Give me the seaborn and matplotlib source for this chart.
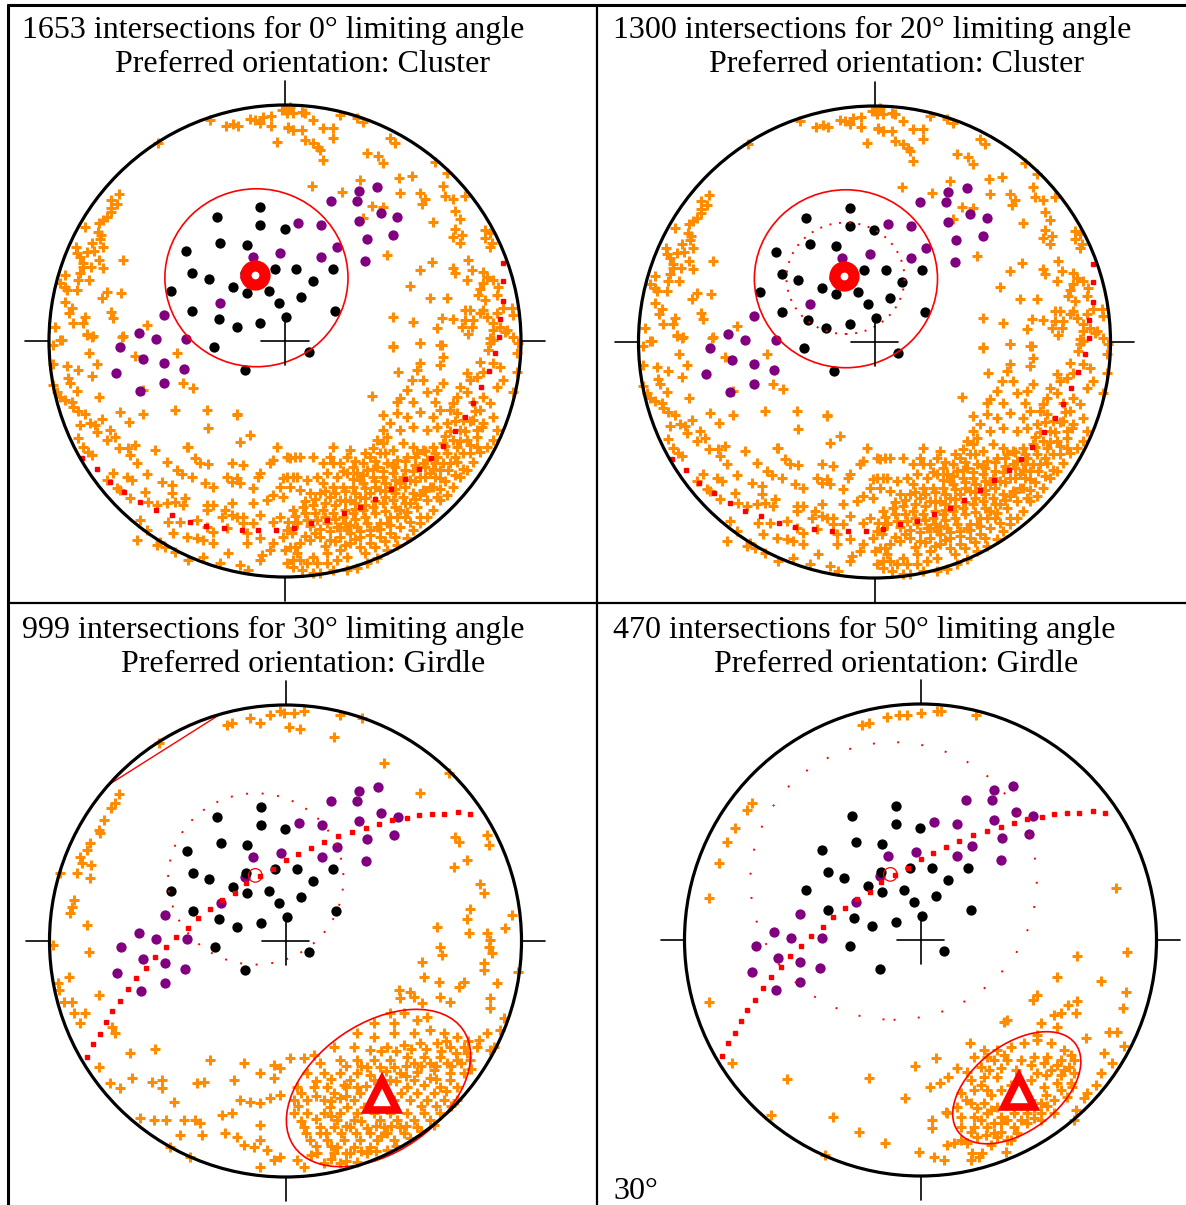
import numpy as np
import pandas as pd
import matplotlib
matplotlib.use("Agg")
import matplotlib.pyplot as plt
from matplotlib.patches import Circle, Ellipse
from matplotlib.lines import Line2D
import seaborn as sns

sns.set_theme(style="white")
plt.rcParams['font.family'] = ['Liberation Serif', 'DejaVu Serif']
plt.rcParams['text.color'] = 'black'

# ---------------- data ----------------
TITLE_LINE1 = ["1653 intersections for 0\u00b0 limiting angle",
               "1300 intersections for 20\u00b0 limiting angle",
               "999 intersections for 30\u00b0 limiting angle",
               "470 intersections for 50\u00b0 limiting angle"]
TITLE_LINE2 = ["Preferred orientation: Cluster", "Preferred orientation: Cluster",
               "Preferred orientation: Girdle", "Preferred orientation: Girdle"]
FOOTNOTE = "30\u00b0"

# poles (normalised net coordinates, primitive radius = 1)
BLACK_X = [-0.105, -0.290, -0.105, -0.001, -0.274, -0.162, -0.418, -0.393, -0.323, -0.168,
           -0.044, 0.048, 0.202, -0.222, -0.162, -0.069, 0.117, -0.484, -0.027, 0.066,
           -0.393, 0.212, -0.281, -0.205, -0.105, 0.006, -0.299, 0.100, -0.171]
BLACK_Y = [0.568, 0.527, 0.490, 0.475, 0.414, 0.407, 0.380, 0.288, 0.261, 0.288,
           0.306, 0.304, 0.304, 0.229, 0.203, 0.212, 0.254, 0.212, 0.160, 0.185,
           0.129, 0.129, 0.093, 0.058, 0.075, 0.100, -0.025, -0.045, -0.121]
PURPLE_X = [0.390, 0.312, 0.194, 0.304, 0.405, 0.475, 0.312, 0.056, 0.153, 0.458,
            0.347, 0.219, -0.020, -0.137, 0.153, 0.339, -0.171, -0.274, -0.511, -0.620,
            -0.547, -0.418, -0.698, -0.603, -0.511, -0.427, -0.715, -0.511, -0.613]
PURPLE_Y = [0.653, 0.637, 0.595, 0.595, 0.542, 0.527, 0.508, 0.499, 0.492, 0.449,
            0.432, 0.397, 0.373, 0.356, 0.356, 0.338, 0.271, 0.160, 0.109, 0.032,
            0.007, 0.007, -0.025, -0.078, -0.095, -0.120, -0.137, -0.179, -0.213]

MEAN_POLE = (-0.128, 0.278)
CONE_CENTER = (-0.121, 0.268)
CONE_SIZE = (0.776, 0.754)          # 95% cone (panels 1-2)
LIMIT_CIRCLES = {1: ((-0.123, 0.270), 0.50, 0.472),   # 20 deg
                 2: ((-0.126, 0.263), 0.743, 0.726),  # 30 deg
                 3: ((-0.114, 0.250), 1.214, 1.176)}  # 50 deg

# best-fit great circle, panels 1-2
GC_CLUSTER_X = [-0.860, -0.797, -0.742, -0.682, -0.614, -0.547, -0.479, -0.403, -0.335, -0.258,
                -0.182, -0.114, -0.038, 0.038, 0.110, 0.178, 0.250, 0.318, 0.381, 0.449,
                0.508, 0.568, 0.619, 0.669, 0.720, 0.763, 0.797, 0.831, 0.864, 0.890,
                0.907, 0.911, 0.924, 0.924, 0.924]
GC_CLUSTER_Y = [-0.496, -0.542, -0.597, -0.640, -0.682, -0.716, -0.737, -0.767, -0.784, -0.792,
                -0.801, -0.801, -0.801, -0.792, -0.771, -0.758, -0.729, -0.703, -0.669, -0.627,
                -0.585, -0.542, -0.496, -0.445, -0.381, -0.322, -0.263, -0.195, -0.127, -0.051,
                0.017, 0.093, 0.169, 0.254, 0.331]
# girdle great circle, panels 3-4
GC_GIRDLE_X = [-0.839, -0.815, -0.787, -0.761, -0.737, -0.702, -0.669, -0.634, -0.592, -0.551,
               -0.507, -0.465, -0.414, -0.370, -0.321, -0.268, -0.215, -0.169, -0.110, -0.052,
               0.004, 0.054, 0.110, 0.164, 0.223, 0.282, 0.343, 0.395, 0.452, 0.513,
               0.565, 0.621, 0.672, 0.729, 0.781]
GC_GIRDLE_Y = [-0.490, -0.438, -0.395, -0.345, -0.295, -0.253, -0.202, -0.158, -0.116, -0.066,
               -0.024, 0.018, 0.054, 0.096, 0.137, 0.174, 0.205, 0.244, 0.275, 0.305,
               0.343, 0.369, 0.393, 0.418, 0.445, 0.460, 0.480, 0.496, 0.513, 0.523,
               0.534, 0.538, 0.538, 0.545, 0.538]
CHORD_P3_X = [-0.751, -0.278]
CHORD_P3_Y = [0.661, 0.960]

GIRDLE_POLE = {2: (0.411, -0.653), 3: (0.418, -0.643)}
GIRDLE_ELLIPSE = {2: ((0.394, -0.623), 0.870, 0.545, 34.5),
                  3: ((0.408, -0.626), 0.621, 0.367, 37.0)}

# intersections, in net units where the primitive radius is 236
NET_R = 236.0
ORANGE_CLUSTER = [
    (-75,221),(-127,198),(-59,215),(-52,217),(-47,215),(-35,222),(-30,221),(-25,218),(-22,224),(-14,225),
    (-14,215),(-3,231),(2,228),(8,228),(3,214),(8,211),(-8,199),
    (-166,147),(-174,141),(-168,137),(-174,133),(-174,129),(-178,124),(-182,121),(-186,118),(-200,114),
    (-187,109),(-184,106),(-185,102),(-193,98),(-182,94),(-209,94),(-208,88),(-198,89),(-191,90),(-205,84),
    (-202,78),(-202,74),(-194,74),(-186,81),(-162,81),(-182,73),(-220,66),(-205,68),(-207,61),(-196,61),
    (-225,58),(-220,54),(-218,51),(-208,51),(-178,49),(-164,48),(-183,43),(-220,39),(-213,33),(-216,28),
    (-174,29),(-172,23),(-200,24),(-202,18),(-212,18),(-230,14),(-138,16),(-163,4),(-198,6),(-193,4),(-223,1),
    (5,234),(0,231),(17,229),(20,228),(28,221),(55,226),(72,223),(78,219),(3,213),(8,211),(17,211),
    (38,213),(48,213),(48,203),(20,201),(28,198),(33,194),(35,191),(38,181),(105,203),(110,198),(82,188),
    (93,185),(98,178),(150,179),(162,168),(27,155),(57,149),(75,161),(114,163),(127,165),(115,148),
    (135,148),(140,142),(137,137),(158,155),(160,145),(168,142),(170,130),(175,122),(180,145),(148,119),
    (170,112),(177,106),(168,104),(175,98),(87,135),(98,134),(78,123),(200,111),(205,108),(200,103),
    (207,98),(205,94),(183,81),(147,79),(168,73),(170,68),(187,71),(135,71),(198,69),(202,64),(198,58),
    (195,52),(193,46),(125,55),(145,43),(162,43),(182,61),(208,61),(213,54),(212,46),(218,33),(227,33),
    (200,41),(198,31),(180,31),(185,31),(180,21),(177,14),(188,21),(195,28),(202,24),(208,18),(212,28),
    (215,14),(220,9),(208,1),(205,-2),(187,14),(168,22),(157,23),(152,13),(128,19),(108,24),(102,86),
    (108,-6),(135,-2),(155,-4),(228,26),(233,-2),
    (-198,7),(-192,5),(-162,5),(-225,1),(-232,-4),(-196,-12),(-150,-15),(-108,-12),(-188,-23),(-232,-23),
    (-218,-25),(-207,-29),(-193,-35),(-217,-37),(-215,-42),(-102,-42),(-92,-47),(-208,-50),(-232,-44),
    (-228,-51),(-225,-56),(-220,-59),(-213,-61),(-186,-56),(-142,-49),(-212,-66),(-207,-70),(-200,-73),
    (-205,-84),(-195,-82),(-190,-84),(-183,-78),(-165,-71),(-142,-73),(-110,-69),(-78,-69),(-48,-73),
    (-156,-81),(-175,-89),(-170,-96),(-178,-99),(-188,-91),(-207,-97),(-202,-106),(-197,-111),(-193,-114),
    (-166,-107),(-157,-107),(-150,-104),(-155,-114),(-148,-122),(-130,-109),(-97,-106),(-90,-117),
    (-85,-122),(-77,-123),(-118,-121),(-108,-129),(-103,-133),(-93,-136),(-80,-142),(-138,-133),
    (-158,-136),(-153,-139),(-172,-132),(-178,-139),(-168,-147),(-165,-149),(-155,-157),(-140,-151),
    (-123,-141),(-113,-144),(-113,-152),(-110,-161),(-100,-157),(-102,-164),(-118,-162),(-128,-164),
    (-137,-161),(-78,-169),(-72,-164),(-60,-169),(-53,-174),(-48,-176),(-58,-187),(-63,-176),(-42,-176),
    (-38,-192),(-32,-182),(-25,-174),(-12,-181),(-5,-176),(3,-181),(12,-181),(7,-192),(-2,-196),
    (-15,-209),(-23,-214),(-38,-202),(-57,-212),(-72,-202),(-82,-199),(-88,-197),(-98,-196),(-112,-192),
    (-117,-181),(-105,-181),(-88,-179),(-78,-186),(-72,-191),(-125,-201),(-138,-189),(-145,-179),
    (-148,-199),(-128,-204),(-120,-206),(-110,-211),(-82,-216),(-97,-219),(-65,-222),(-45,-224),
    (-37,-229),(-25,-219),(-12,-202),(0,-209),(8,-219),(10,-206),(-25,-197),(-42,-182),(-53,-162),
    (-32,-162),(-18,-159),(-12,-154),(-5,-146),(-2,-137),(8,-136),(2,-116),(10,-116),(-12,-119),
    (-15,-122),(-25,-132),(-27,-136),(-42,-124),(-53,-122),(-48,-137),(-53,-141),(-45,-142),(-58,-136),
    (-72,-146),(-32,-147),(-78,-164),(-8,-106),(-45,-101),(-35,-94),(-48,-74),(-77,-87),(-98,-106),
    (183,7),(205,3),(208,11),(222,11),(232,-12),(232,-31),(228,-51),(218,-39),(215,-26),(208,-22),
    (203,-9),(195,-21),(198,-31),(192,-36),(185,-39),(182,-32),(175,-46),(182,-51),(172,-56),(165,-69),
    (168,-62),(188,-61),(195,-69),(205,-62),(208,-76),(198,-82),(192,-89),(212,-89),(208,-99),(202,-106),
    (195,-111),(188,-121),(182,-129),(175,-136),(168,-146),(162,-154),(155,-159),(148,-169),(142,-176),
    (135,-182),(128,-189),(122,-197),(112,-204),(102,-209),(92,-217),(82,-222),(72,-227),(62,-229),
    (48,-229),(35,-232),(28,-232),(17,-229),(8,-226),(2,-222),(15,-219),(28,-216),(42,-212),(55,-209),
    (65,-202),(75,-196),(85,-189),(95,-182),(105,-176),(115,-169),(125,-162),(135,-154),(145,-146),
    (155,-137),(163,-129),(172,-121),(178,-112),(185,-104),(192,-96),(197,-86),
    (135,-2),(157,-4),(158,-16),(155,-24),(135,-22),(132,-29),(138,-39),(127,-39),(122,-49),(113,-31),
    (115,-57),(112,-61),(128,-61),(142,-51),(152,-49),(158,-42),(150,-61),(155,-69),(148,-76),(135,-71),
    (122,-76),(112,-72),(105,-82),(98,-89),(92,-99),(102,-96),(115,-89),(128,-86),(142,-89),(152,-86),
    (162,-82),(172,-72),(178,-79),(175,-89),(168,-99),(158,-102),(148,-106),(138,-109),(128,-106),
    (118,-102),(108,-109),(95,-112),(85,-116),(78,-122),(68,-126),(62,-116),(55,-122),(48,-122),(45,-116),
    (38,-122),(28,-116),(15,-116),(5,-117),(2,-136),(12,-136),(22,-139),(32,-136),(42,-132),(52,-136),
    (62,-132),(72,-132),(82,-129),(92,-126),(102,-122),(112,-119),(122,-116),(132,-112),(142,-119),
    (152,-116),(162,-112),(165,-122),(155,-129),(145,-132),(135,-136),(125,-139),(115,-142),(105,-146),
    (95,-149),(85,-152),(75,-156),(65,-159),(55,-159),(45,-156),(35,-152),(25,-152),(15,-149),(5,-146),
    (-2,-156),(8,-169),(18,-166),(28,-164),(38,-169),(48,-172),(58,-176),(68,-172),(78,-169),(88,-166),
    (98,-162),(108,-159),(118,-156),(128,-152),(138,-149),(148,-146),(152,-156),(142,-159),(132,-166),
    (122,-171),(112,-176),(102,-182),(92,-186),(82,-182),(72,-186),(62,-189),(52,-186),(42,-182),
    (32,-179),(22,-179),(12,-182),(2,-189),(5,-206),(15,-202),(25,-199),(35,-196),(45,-199),(55,-196),
    (65,-192),(75,-206),(85,-202),(95,-196),(105,-192),(115,-186),(125,-181),(135,-176),(62,-216),
    (52,-219),(42,-222),(32,-222),(22,-222),(12,-212),(68,-146),(78,-142),(88,-136),(98,-136),(108,-132),
    (58,-146),(48,-146),(38,-142),(88,-107),(98,-102),(75,-139),(60,-169),(70,-162),(80,-157),(90,-146),
    (100,-142),(110,-139),(120,-129),(130,-124),(140,-126),(150,-122),(172,-106),(182,-99),(188,-79),
    (198,-56),(212,-46),(228,4),(108,-5),(87,-55),(98,-74),(48,-106),(65,-109),(8,-187)]
# extra crosses read in the solid core of the lower-right band
ORANGE_CLUSTER_CORE = [
    (70,-120),(80,-112),(90,-120),(100,-112),(110,-126),(120,-120),(130,-116),(140,-110),(150,-112),
    (160,-105),(170,-116),(58,-130),(68,-138),(78,-134),(88,-128),(98,-130),(108,-124),(118,-136),
    (128,-130),(138,-122),(148,-128),(158,-122),(40,-150),(50,-152),(60,-150),(70,-152),(80,-147),
    (90,-140),(100,-150),(110,-148),(120,-146),(130,-140),(140,-136),(150,-136),(20,-160),(30,-158),
    (40,-162),(50,-164),(60,-160),(70,-168),(80,-164),(90,-160),(100,-156),(110,-152),(120,-162),
    (130,-158),(140,-150),(10,-175),(20,-172),(30,-172),(40,-176),(50,-178),(60,-182),(70,-178),
    (80,-176),(90,-172),(100,-170),(110,-166),(120,-176),(25,-185),(35,-188),(45,-190),(55,-186),
    (65,-184),(75,-190),(85,-194),(95,-188),(105,-184),(20,-195),(30,-192),(40,-205),(50,-200),
    (60,-204),(70,-198),(80,-212),(90,-206),(100,-200),(110,-196),(165,-90),(170,-80),(180,-90),
    (185,-80),(190,-70),(160,-95),(175,-100),(185,-112),(192,-106),(178,-128),(170,-134),(160,-140),
    (155,-148)]

ORANGE_P3 = [
    (-36,223),(-26,218),(-16,226),(-6,230),(-2,228),(8,228),(18,230),(14,212),(3,214),(-54,218),(-59,216),
    (54,226),(76,223),(48,204),(98,178),(-127,198),(163,168),(134,148),
    (-167,147),(-171,138),(-175,133),(-182,121),(-187,111),(-186,108),(-196,98),(-199,91),(-206,84),
    (-204,78),(-195,76),(-209,68),(-196,63),(-226,68),(-212,41),(-214,34),(-216,28),(-199,16),(-233,-4),
    (-197,-11),(-217,-36),(-228,-42),(-187,-54),(-227,-49),(-222,-61),(-214,-61),(-212,-72),(-201,-72),
    (-206,-82),(-174,-86),(-171,-92),(-131,-108),(-156,-112),(-187,-126),(-176,-142),(-166,-147),
    (-154,-137),(-134,-141),(-124,-139),(-124,-147),(-146,-177),(-132,-179),(-120,-179),(-112,-161),
    (-89,-142),(-82,-141),(-76,-119),(-52,-139),(-42,-122),(-102,-179),(-91,-179),(-86,-182),(-106,-194),
    (-84,-194),(-96,-216),(-116,-206),(-64,-174),(-54,-172),(-61,-192),(-49,-196),(-42,-204),(-32,-206),
    (-26,-199),(-26,-184),(-19,-209),(-12,-219),(-26,-226),(-6,-216),(11,-219),(18,-226),(-46,-159),
    (-36,-161),(-26,-162),(-16,-157),(-6,-154),(-12,-137),(-26,-132),(-12,-124),(-6,-127),(4,-117),
    (18,-117),(28,-114),
    (201,106),(203,96),(169,104),(173,99),(181,81),(168,74),(194,57),(198,48),(184,32),(181,22),(151,14),
    (183,8),(201,8),(204,1),(206,-12),(203,-6),(198,-22),(198,-29),(219,13),(226,26),(154,-6),(156,-14),
    (136,-21),(232,-31),(211,-42),(204,-57),(204,-67),(218,-77),(214,-89),(201,-92),(193,-99),(208,-106),
    (204,-109),(191,-106),(181,-112),(153,-41),(178,-41),(173,-46),(138,-36),(164,-61),(154,-56),
    (128,-56),(114,-57),(113,-49),(124,-51),(136,-62),(104,-72),
    (88,-82),(108,-82),(131,-79),(141,-76),(118,-72),(71,-92),(88,-96),(108,-92),(128,-92),(144,-89),
    (158,-92),(171,-96),(48,-106),(68,-106),(84,-109),(101,-106),(118,-104),(134,-102),(151,-102),
    (164,-106),(178,-106),(34,-122),(54,-119),(71,-119),(88,-119),(104,-119),(121,-116),(138,-116),
    (154,-116),(171,-119),(184,-119),(21,-132),(38,-132),(54,-132),(71,-132),(84,-134),(114,-132),
    (131,-131),(148,-129),(164,-132),(178,-132),(11,-146),(28,-146),(41,-146),(58,-144),(71,-146),
    (121,-146),(138,-144),(154,-146),(171,-146),(8,-159),(21,-159),(38,-159),(54,-157),(68,-159),
    (124,-159),(141,-159),(158,-159),(171,-159),(8,-172),(21,-172),(38,-172),(54,-172),(71,-172),
    (88,-172),(104,-172),(121,-172),(138,-172),(154,-172),(18,-186),(34,-186),(48,-186),(64,-186),
    (81,-187),(98,-186),(114,-186),(131,-186),(148,-184),(24,-199),(41,-199),(58,-199),(74,-199),
    (91,-199),(108,-199),(124,-197),(31,-212),(48,-212),(64,-212),(81,-212),(101,-209),(38,-222),
    (54,-222),(71,-221),(81,-126),(94,-126),(108,-126),(128,-122),(144,-122),(161,-122),(64,-139),
    (128,-139),(144,-137),(164,-139),(48,-152),(74,-152),(131,-152),(148,-152),(44,-166),(61,-166),
    (78,-166),(94,-179),(111,-179),(128,-179),(144,-179),(51,-179),(68,-179),(84,-192),(101,-192),
    (118,-192),(34,-192),(51,-206),(68,-206),(84,-206),(88,-139),(104,-139),(88,-159),(108,-159),
    (95,-110),(110,-110),(125,-108),(140,-108),(155,-110),(170,-112),(60,-125),(75,-125),(100,-130),
    (120,-125),(135,-125),(150,-125),(165,-125),(30,-140),(45,-138),(60,-146),(80,-145),(110,-140),
    (120,-135),(150,-138),(160,-150),(15,-152),(30,-155),(45,-160),(60,-155),(115,-152),(135,-165),
    (150,-165),(165,-165),(15,-180),(30,-178),(45,-175),(60,-185),(75,-180),(90,-185),(105,-185),
    (120,-185),(135,-190),(20,-192),(40,-192),(55,-192),(70,-192),(95,-195),(30,-205),(45,-205),
    (60,-212),(75,-210),(90,-210),(110,-205),(45,-218),(60,-220),(25,-214),(12,-165),(160,-100),
    (175,-122),(185,-128),(182,-100)]

ORANGE_P4 = [
    (-34,223),(-22,225),(-14,225),(0,227),(16,229),(20,229),(55,225),(-59,215),(-52,217),
    (-169,137),(-174,130),(-186,112),(-194,98),(-202,77),(-212,42),(-212,-62),(-189,-123),(-134,-139),
    (-150,-175),(-96,-215),(-88,-177),(-62,-192),(-52,-138),(-36,-203),(-16,-158),(-6,-126),(-2,-212),
    (15,-118),(9,-147),(19,-143),(27,-137),(36,-128),(49,-103),(25,-172),(11,-180),(11,-188),
    (195,52),(206,-12),(156,-16),(136,-37),(180,-41),(205,-52),(202,-68),(116,-55),(112,-60),(147,-65),
    (156,-61),(155,-73),(133,-75),(140,-73),(86,-80),(83,-82),(120,-83),(116,-95),(136,-87),(165,-98),
    (188,-92),(196,-92),(203,-106),(183,-113),(191,-123),(180,-133),(175,-145),(166,-153),(163,-158),
    (155,-170),(151,-147),(153,-180),
    (13,-217),(23,-220),(26,-205),(33,-203),(40,-200),(46,-203),(51,-213),(58,-217),(50,-220),(61,-213),
    (85,-212),(86,-200),(76,-197),(70,-205),
    (53,-117),(63,-110),(76,-110),(90,-107),(103,-103),(116,-100),(130,-103),(143,-110),(153,-120),
    (73,-120),(86,-120),(113,-117),(126,-117),(140,-120),(148,-127),(60,-127),(46,-132),(50,-140),
    (63,-137),(76,-137),(116,-133),(130,-130),(143,-130),(153,-133),(40,-153),(53,-150),(66,-150),
    (123,-147),(136,-143),(150,-143),(36,-167),(50,-163),(63,-163),(76,-167),(120,-163),(133,-160),
    (146,-157),(26,-173),(40,-177),(53,-177),(66,-173),(80,-177),(93,-173),(106,-173),(120,-173),
    (133,-173),(40,-187),(53,-187),(66,-187),(80,-183),(93,-187),(106,-183),(120,-180),(56,-197),
    (73,-193),(96,-193),
    (60,-145),(70,-155),(80,-150),(90,-145),(110,-140),(125,-135),(140,-135),(110,-160),(125,-155),
    (140,-150),(45,-160),(56,-168),(70,-170),(85,-165),(100,-165),(113,-168),(126,-166),(60,-180),
    (73,-183),(86,-180),(100,-180),(113,-178),(50,-192),(65,-195),(80,-192),(90,-200),(100,-120),
    (95,-130),(110,-125),(123,-123),(136,-125),(150,-115),(83,-115),(66,-117),(80,-128),(68,-130)]

ORANGE_BY_PANEL = [ORANGE_CLUSTER + ORANGE_CLUSTER_CORE, ORANGE_CLUSTER + ORANGE_CLUSTER_CORE,
                   ORANGE_P3, ORANGE_P4]

# ---------------- layout ----------------
W, H = 1186, 1205
R_PX = 236.0
L = 1.13
CENTERS = [(285, 341), (874.5, 342), (285.5, 941), (920.5, 940)]
TITLE_POS = [((22, 38), (115, 72)), ((613, 38), (709, 72)),
             ((22, 638), (121, 672)), ((613, 638), (714, 672))]

ORANGE = "#ff8c00"
PURPLE = "#800080"
RED = "#ff0000"

fig = plt.figure(figsize=(W / 100, H / 100), dpi=100)
fig.patch.set_facecolor("white")

def fx(x):
    return x / W

def fy(y):
    return 1 - y / H

for i, (cx, cy) in enumerate(CENTERS):
    ax = fig.add_axes([fx(cx - L * R_PX), fy(cy + L * R_PX), 2 * L * R_PX / W, 2 * L * R_PX / H])
    ax.set_xlim(-L, L)
    ax.set_ylim(-L, L)
    ax.set_aspect("equal")
    ax.axis("off")
    ax.patch.set_alpha(0)

    pts = np.array(ORANGE_BY_PANEL[i], dtype=float) / NET_R
    odf = pd.DataFrame({"x": pts[:, 0], "y": pts[:, 1]})
    sns.scatterplot(data=odf, x="x", y="y", marker="+", s=42, color=ORANGE,
                    linewidth=2.2, ax=ax, zorder=2, legend=False)

    sns.scatterplot(x=PURPLE_X, y=PURPLE_Y, marker="o", s=55, color=PURPLE,
                    linewidth=0, ax=ax, zorder=3, legend=False)
    sns.scatterplot(x=BLACK_X, y=BLACK_Y, marker="o", s=55, color="black",
                    linewidth=0, ax=ax, zorder=3, legend=False)

    # primitive circle, ticks and centre cross
    ax.add_patch(Circle((0, 0), 1.0, fill=False, lw=2.3, color="black", zorder=5))
    for (x0, y0, x1, y1) in [(0, 1, 0, 1.1), (0, -1, 0, -1.1), (1, 0, 1.1, 0), (-1, 0, -1.1, 0),
                             (-0.1, 0, 0.1, 0), (0, -0.1, 0, 0.1)]:
        ax.plot([x0, x1], [y0, y1], color="black", lw=1.2, zorder=5)

    if i < 2:
        ax.plot(GC_CLUSTER_X, GC_CLUSTER_Y, linestyle="none", marker="s", ms=2.2,
                color=RED, zorder=4)
        ax.add_patch(Ellipse(CONE_CENTER, CONE_SIZE[0], CONE_SIZE[1], fill=False,
                             lw=1.2, color=RED, zorder=4))
        ax.scatter([MEAN_POLE[0]], [MEAN_POLE[1]], s=190, facecolors="white",
                   edgecolors=RED, linewidths=8, zorder=6)
    else:
        ax.plot(GC_GIRDLE_X, GC_GIRDLE_Y, linestyle="none", marker="s", ms=2.8,
                color=RED, zorder=4)
        ax.scatter([MEAN_POLE[0]], [MEAN_POLE[1]], s=95, facecolors="none",
                   edgecolors=RED, linewidths=0.9, zorder=6)
        (ex, ey), ew, eh, ea = GIRDLE_ELLIPSE[i]
        ax.add_patch(Ellipse((ex, ey), ew, eh, angle=ea, fill=False, lw=1.2,
                             color=RED, zorder=4))
        px, py = GIRDLE_POLE[i]
        ax.plot([px], [py], marker="^", ms=22, mfc="white", mec=RED, mew=5.5,
                linestyle="none", zorder=6)
    if i == 2:
        ax.plot(CHORD_P3_X, CHORD_P3_Y, color=RED, lw=1.0, zorder=4)
    if i in LIMIT_CIRCLES:
        (lx, ly), lw_, lh_ = LIMIT_CIRCLES[i]
        gap = {1: 4, 2: 7, 3: 11.5}[i]
        ax.add_patch(Ellipse((lx, ly), lw_, lh_, fill=False, lw=1.4, color=RED,
                             linestyle=(0, (1, gap)), zorder=4))

# titles
for i, ((x1, y1), (x2, y2)) in enumerate(TITLE_POS):
    fig.text(fx(x1), fy(y1), TITLE_LINE1[i], fontsize=23, va="baseline", ha="left", color="black")
    fig.text(fx(x2), fy(y2), TITLE_LINE2[i], fontsize=23, va="baseline", ha="left", color="black")
fig.text(fx(613), fy(1199), FOOTNOTE, fontsize=23, va="baseline", ha="left", color="black")

# table rules
for (x0, y0, x1, y1, lw) in [(8, 5, W, 5, 2.2), (8, 5, 8, H, 2.2),
                             (597, 5, 597, H, 1.6), (8, 603, W, 603, 1.6)]:
    fig.add_artist(Line2D([fx(x0), fx(x1)], [fy(y0), fy(y1)], color="black", lw=lw,
                          transform=fig.transFigure))

fig.savefig("out.png", dpi=100)
